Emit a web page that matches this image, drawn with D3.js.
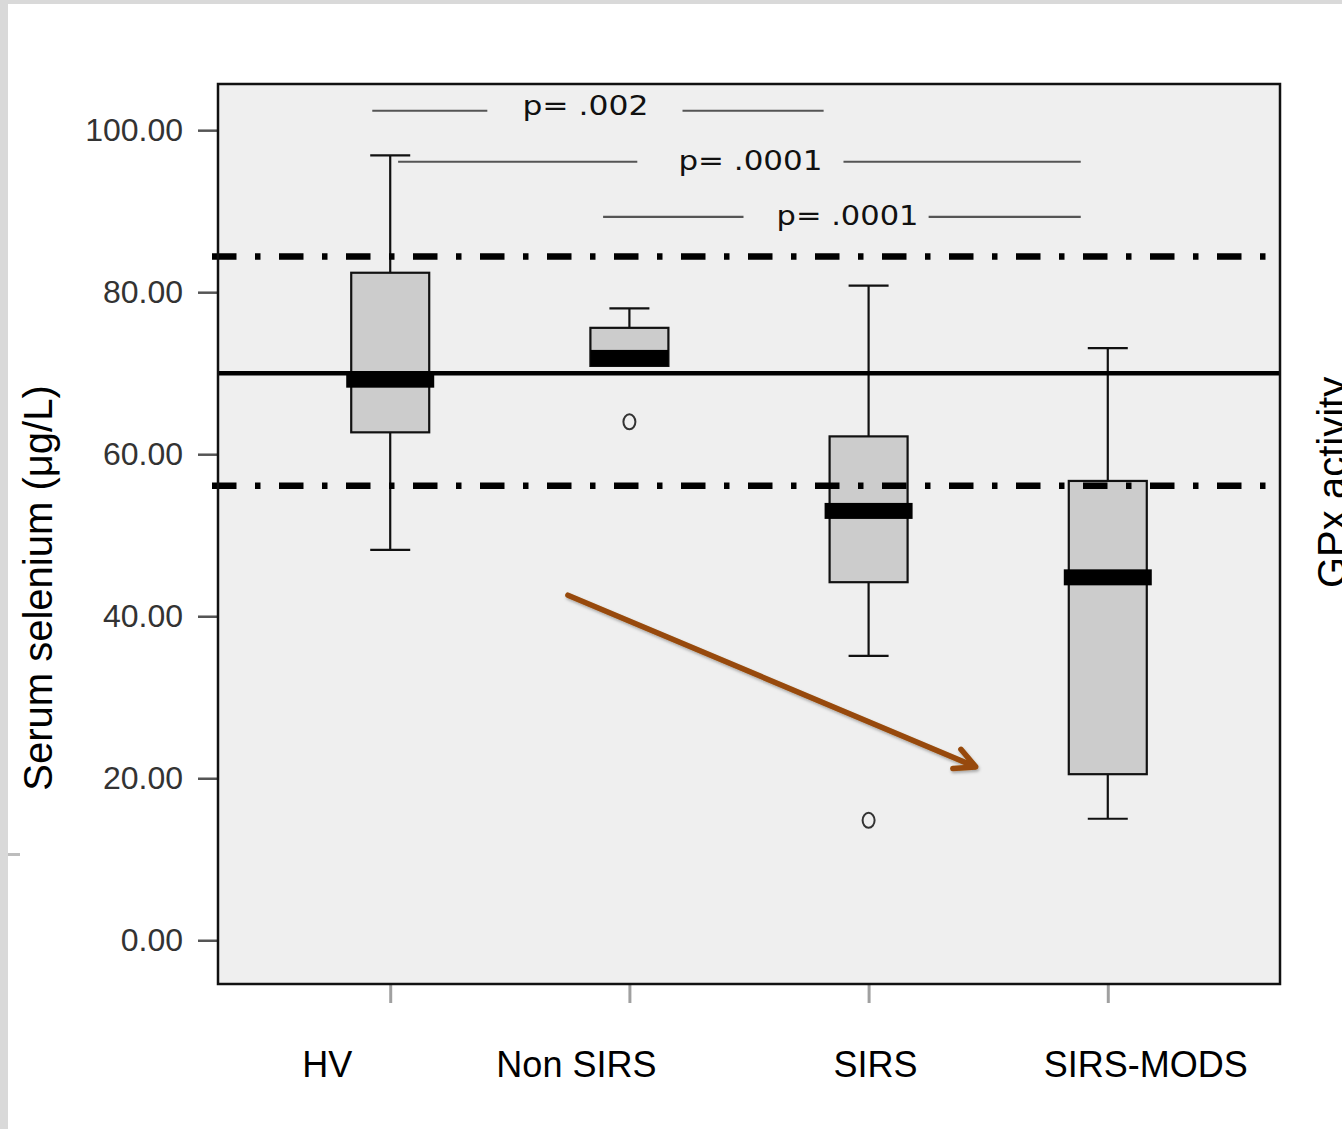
<!DOCTYPE html>
<html>
<head>
<meta charset="utf-8">
<script src="https://cdn.jsdelivr.net/npm/d3@7/dist/d3.min.js"></script>
<style>
  html, body { margin: 0; padding: 0; background: #fff; }
  svg { display: block; }
</style>
</head>
<body>
<svg id="chart" width="1342" height="1129"></svg>
<script>
// Serum selenium by patient group (µg/L)
const categories   = ["HV", "Non SIRS", "SIRS", "SIRS-MODS"];
const whiskerHigh  = [96.9, 78.0, 80.8, 73.1];
const upperQuart   = [82.4, 75.6, 62.2, 56.7];
const medians      = [69.2, 72.0, 53.0, 44.8];
const lowerQuart   = [62.7, 70.9, 44.2, 20.5];
const whiskerLow   = [48.2, 70.9, 35.1, 15.0];
const outliers     = [[], [64.0], [14.8], []];

// Reference range of healthy values
const refMean   = 70.0;
const refBounds = [84.4, 56.1];

// Axis ticks
const yTicks = [0, 20, 40, 60, 80, 100];

// Pairwise comparisons (level in µg/L, spans in group-index units)
const pLabels   = ["p= .002", "p= .0001", "p= .0001"];
const pLevels   = [102.4, 96.1, 89.3];
const pLeftSeg  = [[-0.075, 0.406], [0.033, 1.033], [0.89, 1.477]];
const pTextAt   = [0.816, 1.506, 1.912];
const pRightSeg = [[1.222, 1.812], [1.895, 2.887], [2.251, 2.887]];

// Trend arrow (group-index, µg/L)
const trendFrom = [0.743, 42.6];
const trendTo   = [2.448, 21.4];

// Layout tweaks: group-name nudges and comparison label widths (px)
const labelShift = [-63, -53, 7, 38];
const pTextWidth = [126, 144, 142];

const svg = d3.select("#chart");
const W = 1342, H = 1129;
const plot = { left: 218, right: 1280, top: 84, bottom: 984 };

// page frame
svg.append("rect").attr("x", 0).attr("y", 0).attr("width", W).attr("height", H).attr("fill", "#fff");
svg.append("rect").attr("x", 0).attr("y", 0).attr("width", 8).attr("height", H).attr("fill", "#d9d9d9");
svg.append("rect").attr("x", 0).attr("y", 0).attr("width", W).attr("height", 4).attr("fill", "#d9d9d9");
svg.append("rect").attr("x", 8).attr("y", 853).attr("width", 12).attr("height", 3).attr("fill", "#bdbdbd");

const x = d3.scalePoint().domain(categories).range([plot.left, plot.right]).padding(0.72);
const xi = d3.scaleLinear().domain([0, categories.length - 1])
  .range([x(categories[0]), x(categories[categories.length - 1])]);
const y = d3.scaleLinear().domain([-5.4, 105.7]).range([plot.bottom, plot.top]);

// plot background
svg.append("rect")
  .attr("x", plot.left).attr("y", plot.top)
  .attr("width", plot.right - plot.left).attr("height", plot.bottom - plot.top)
  .attr("fill", "#efefef");

// y axis
const yAxis = svg.append("g")
  .attr("transform", `translate(${plot.left},0)`)
  .call(d3.axisLeft(y).tickValues(yTicks).tickFormat(d3.format(".2f")).tickSize(20).tickPadding(15));
yAxis.select(".domain").remove();
yAxis.selectAll(".tick line").attr("stroke", "#555").attr("stroke-width", 2.5);
yAxis.selectAll(".tick text")
  .attr("fill", "#333")
  .style("font-family", "'Liberation Sans', Arial, sans-serif")
  .style("font-size", "32px");

// x axis ticks
const xAxis = svg.append("g")
  .attr("transform", `translate(0,${plot.bottom})`)
  .call(d3.axisBottom(x).tickSize(19).tickFormat(""));
xAxis.select(".domain").remove();
xAxis.selectAll(".tick line").attr("stroke", "#a0a0a0").attr("stroke-width", 3);

// group names
svg.append("g").selectAll("text")
  .data(categories)
  .join("text")
  .attr("x", (d, i) => x(d) + labelShift[i])
  .attr("y", 1077)
  .attr("text-anchor", "middle")
  .style("font-family", "'Liberation Sans', Arial, sans-serif")
  .style("font-size", "36px")
  .attr("fill", "#000")
  .text(d => d);

// boxplots
const boxW = 78, capW = 40, medExtra = 5, medH = 16;
const boxes = svg.append("g");
categories.forEach((c, i) => {
  const cx = x(c);
  const g = boxes.append("g");
  // whiskers
  if (whiskerHigh[i] > upperQuart[i]) {
    g.append("line").attr("x1", cx).attr("x2", cx)
      .attr("y1", y(whiskerHigh[i])).attr("y2", y(upperQuart[i]))
      .attr("stroke", "#111").attr("stroke-width", 2.2);
    g.append("line").attr("x1", cx - capW / 2).attr("x2", cx + capW / 2)
      .attr("y1", y(whiskerHigh[i])).attr("y2", y(whiskerHigh[i]))
      .attr("stroke", "#111").attr("stroke-width", 2.2);
  }
  if (whiskerLow[i] < lowerQuart[i]) {
    g.append("line").attr("x1", cx).attr("x2", cx)
      .attr("y1", y(lowerQuart[i])).attr("y2", y(whiskerLow[i]))
      .attr("stroke", "#111").attr("stroke-width", 2.2);
    g.append("line").attr("x1", cx - capW / 2).attr("x2", cx + capW / 2)
      .attr("y1", y(whiskerLow[i])).attr("y2", y(whiskerLow[i]))
      .attr("stroke", "#111").attr("stroke-width", 2.2);
  }
  // box
  g.append("rect")
    .attr("x", cx - boxW / 2).attr("y", y(upperQuart[i]))
    .attr("width", boxW).attr("height", y(lowerQuart[i]) - y(upperQuart[i]))
    .attr("fill", "#cccccc").attr("stroke", "#111").attr("stroke-width", 2.2);
  // median band (kept inside the box when it sits on the box edge)
  const clamped = y(medians[i]) + medH / 2 > y(lowerQuart[i]) - 2;
  const medTop = clamped ? y(lowerQuart[i]) - medH : y(medians[i]) - medH / 2;
  const ext = clamped ? 0 : medExtra;
  g.append("rect")
    .attr("x", cx - boxW / 2 - ext).attr("y", medTop)
    .attr("width", boxW + ext * 2).attr("height", medH)
    .attr("fill", "#000");
  // outliers
  outliers[i].forEach(v => {
    g.append("ellipse").attr("cx", cx).attr("cy", y(v)).attr("rx", 6).attr("ry", 7.5)
      .attr("fill", "none").attr("stroke", "#333").attr("stroke-width", 2);
  });
});

// reference lines
svg.append("line")
  .attr("x1", plot.left).attr("x2", plot.right)
  .attr("y1", y(refMean)).attr("y2", y(refMean))
  .attr("stroke", "#000").attr("stroke-width", 4.5);
svg.append("g").selectAll("line")
  .data(refBounds)
  .join("line")
  .attr("x1", plot.left - 6).attr("x2", plot.right - 12)
  .attr("y1", d => y(d)).attr("y2", d => y(d))
  .attr("stroke", "#000").attr("stroke-width", 6.5)
  .attr("stroke-dasharray", "24.5 18.5 5.5 18.5");

// comparison annotations
const ann = svg.append("g");
pLabels.forEach((lab, i) => {
  const yy = y(pLevels[i]);
  [pLeftSeg[i], pRightSeg[i]].forEach(s => {
    ann.append("line").attr("x1", xi(s[0])).attr("x2", xi(s[1]))
      .attr("y1", yy).attr("y2", yy)
      .attr("stroke", "#555").attr("stroke-width", 2.2);
  });
  ann.append("text")
    .attr("x", xi(pTextAt[i]) - pTextWidth[i] / 2).attr("y", yy + 4 + (i === 0 ? 0 : 4))
    .attr("text-anchor", "start")
    .attr("textLength", pTextWidth[i])
    .attr("lengthAdjust", "spacingAndGlyphs")
    .style("font-family", "'DejaVu Sans', sans-serif")
    .style("font-size", "27px")
    .attr("fill", "#111")
    .text(lab);
});

// trend arrow
const defs = svg.append("defs");
const shadow = defs.append("filter").attr("id", "soft-shadow")
  .attr("x", "-10%").attr("y", "-10%").attr("width", "120%").attr("height", "130%");
shadow.append("feDropShadow").attr("dx", 1).attr("dy", 2).attr("stdDeviation", 1.5)
  .attr("flood-color", "#000").attr("flood-opacity", 0.3);

const ax0 = xi(trendFrom[0]), ay0 = y(trendFrom[1]);
const ax1 = xi(trendTo[0]),   ay1 = y(trendTo[1]);
const ang = Math.atan2(ay1 - ay0, ax1 - ax0);
const armLen = 23, armAng = 27 * Math.PI / 180;
const armA = [ax1 - armLen * Math.cos(ang - armAng), ay1 - armLen * Math.sin(ang - armAng)];
const armB = [ax1 - armLen * Math.cos(ang + armAng), ay1 - armLen * Math.sin(ang + armAng)];
const arrow = svg.append("g").attr("filter", "url(#soft-shadow)")
  .attr("stroke", "#974a08").attr("stroke-width", 5.5).attr("fill", "none")
  .attr("stroke-linecap", "round").attr("stroke-linejoin", "round");
arrow.append("line").attr("x1", ax0).attr("y1", ay0).attr("x2", ax1 - 2 * Math.cos(ang)).attr("y2", ay1 - 2 * Math.sin(ang));
arrow.append("path").attr("d", d3.line()([armA, [ax1, ay1], armB]));

// plot frame
svg.append("rect")
  .attr("x", plot.left).attr("y", plot.top)
  .attr("width", plot.right - plot.left).attr("height", plot.bottom - plot.top)
  .attr("fill", "none").attr("stroke", "#111").attr("stroke-width", 2.5);

// axis titles (the right-hand one runs off the page edge)
svg.append("text")
  .attr("transform", "translate(52,588) rotate(-90)")
  .attr("text-anchor", "middle")
  .style("font-family", "'Liberation Sans', Arial, sans-serif")
  .style("font-size", "40px")
  .attr("fill", "#000")
  .text("Serum selenium (μg/L)");
svg.append("text")
  .attr("transform", "translate(1346,588) rotate(-90)")
  .attr("text-anchor", "start")
  .style("font-family", "'Liberation Sans', Arial, sans-serif")
  .style("font-size", "40px")
  .attr("fill", "#000")
  .text("GPx activity");
</script>
</body>
</html>
